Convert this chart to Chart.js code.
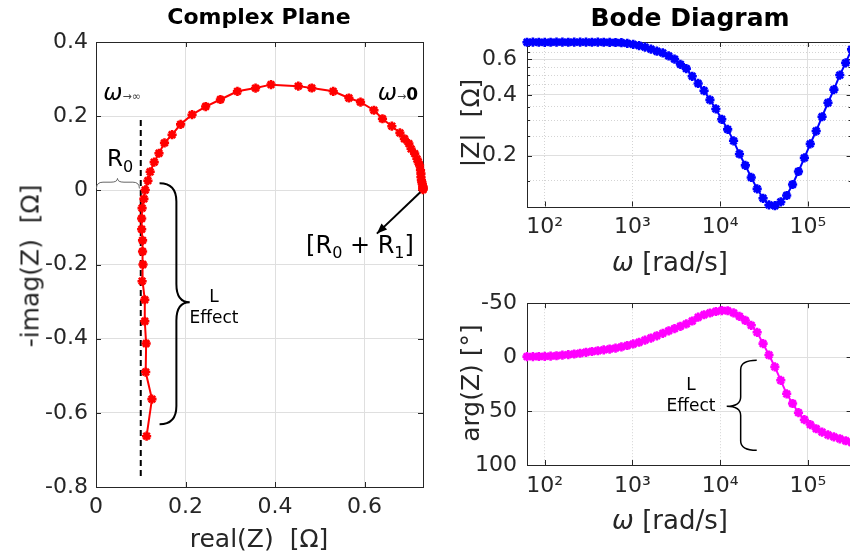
<!DOCTYPE html>
<html><head><meta charset="utf-8">
<script src="https://cdn.jsdelivr.net/npm/chart.js@4.4.1/dist/chart.umd.min.js"></script>
<style>
html,body{margin:0;padding:0;background:#fff;width:850px;height:553px;overflow:hidden;position:relative;font-family:'DejaVu Sans',sans-serif;color:#262626}
canvas{position:absolute}
.t{position:absolute;white-space:nowrap;transform:translate(-50%,-50%);line-height:1}
.r{transform:translate(-50%,-50%) rotate(-90deg)}
.ttl{font-weight:bold;color:#000}
.lab{font-size:25px}
.ann{font-size:17px;color:#000;text-align:center}
</style></head><body>
<canvas id="c1" width="440" height="553" style="left:0;top:0"></canvas>
<canvas id="c2" width="420" height="280" style="left:440px;top:0"></canvas>
<canvas id="c3" width="420" height="273" style="left:440px;top:280px"></canvas>

<div class="t ttl" style="left:259px;top:17px;font-size:22px">Complex Plane</div>
<div class="t ttl" style="left:690px;top:17px;font-size:25px">Bode Diagram</div>
<div class="t lab r" style="left:30px;top:266px">-imag(Z)&nbsp;&nbsp;[Ω]</div>
<div class="t lab" style="left:259px;top:538px">real(Z)&nbsp;&nbsp;[Ω]</div>
<div class="t lab r" style="left:470px;top:123px">|Z|&nbsp;&nbsp;[Ω]</div>
<div class="t lab r" style="left:470px;top:383px">arg(Z)&nbsp;[°]</div>
<div class="t lab" style="left:670px;top:262px;font-size:26px"><i>ω</i> [rad/s]</div>
<div class="t lab" style="left:670px;top:520px;font-size:26px"><i>ω</i> [rad/s]</div>
<div class="t" style="left:122px;top:92px;color:#000"><span style="font-size:23px;font-style:italic">ω</span><span style="font-size:11px;color:#444">→∞</span></div>
<div class="t" style="left:398px;top:92px;color:#000"><span style="font-size:23px;font-style:italic">ω</span><span style="font-size:11px;color:#444">→</span><span style="font-size:17px;font-weight:bold">0</span></div>
<div class="t" style="left:120px;top:161px;font-size:23px;color:#000">R<sub style="font-size:16px">0</sub></div>
<div class="t" style="left:360px;top:247px;font-size:24px;color:#000">[R<sub style="font-size:16px">0</sub> + R<sub style="font-size:16px">1</sub>]</div>
<div class="t ann" style="left:214px;top:307px;line-height:21px">L<br>Effect</div>
<div class="t ann" style="left:691px;top:395px;line-height:21px">L<br>Effect</div>

<script>
// ---------- data ----------
const nyqRe = [0.7306,0.7306,0.7306,0.7305,0.7303,0.729,0.728,0.727,0.726,0.726,0.725,0.723,0.720,0.717,0.712,0.704,0.699,0.689,0.679,0.661,0.640,0.621,0.591,0.565,0.530,0.482,0.452,0.391,0.3565,0.316,0.278,0.245,0.2146,0.189,0.170,0.153,0.1407,0.130,0.121,0.116,0.110,0.107,0.103,0.102,0.102,0.104,0.104,0.105,0.103,0.109,0.109,0.112,0.111,0.125,0.113];
const nyqNegIm = [0.002,0.004,0.006,0.008,0.011,0.017,0.0225,0.028,0.036,0.045,0.054,0.067,0.076,0.085,0.099,0.112,0.126,0.139,0.155,0.173,0.193,0.216,0.238,0.249,0.267,0.276,0.281,0.285,0.2757,0.267,0.245,0.226,0.204,0.178,0.150,0.128,0.100,0.076,0.050,0.026,0.001,-0.023,-0.048,-0.076,-0.105,-0.135,-0.165,-0.200,-0.245,-0.295,-0.353,-0.413,-0.490,-0.563,-0.663];
const r0LineX = [0.1, 0.1];
const r0LineY = [0.19, -0.775];

const omega = [62.83,73.4,85.6,100.0,116.7,136.3,159.1,185.8,216.9,253.2,295.6,345.1,402.9,470.3,549.1,641.1,748.4,873.8,1020,1191,1390,1623,1895,2213,2583,3016,3521,4110,4799,5603,6541,7637,8916,10409,12153,14188,16565,19339,22578,26360,30774,35928,41945,48971,57174,66749,77929,90981,106220,124010,144780,169030,197340,230390,268980,314030];
const magZ = [0.730,0.731,0.730,0.729,0.730,0.731,0.731,0.730,0.731,0.731,0.731,0.730,0.731,0.730,0.729,0.728,0.726,0.720,0.712,0.702,0.690,0.675,0.659,0.646,0.625,0.602,0.567,0.540,0.495,0.456,0.420,0.378,0.341,0.303,0.270,0.237,0.204,0.179,0.156,0.137,0.123,0.114,0.113,0.118,0.127,0.144,0.167,0.195,0.229,0.265,0.312,0.366,0.425,0.502,0.577,0.673];
const argZ = [-0.5,-0.5,-0.6,-0.7,-0.9,-1.3,-1.8,-2.3,-2.9,-3.6,-4.5,-5.2,-5.9,-6.7,-7.5,-8.4,-9.5,-10.8,-12.2,-13.8,-15.7,-17.7,-19.8,-22.0,-24.3,-26.5,-28.6,-30.8,-33.5,-37.0,-39.3,-40.9,-42.3,-43.2,-43.0,-41.0,-37.8,-34.0,-29.5,-23.0,-12.5,-2.0,9.0,21.5,34.0,43.0,51.5,58.0,62.5,66.4,69.5,72.0,73.9,75.7,77.5,79.1];

const nyqXTicks = [0, 0.2, 0.4, 0.6];
const nyqXLabels = ['0', '0.2', '0.4', '0.6'];
const nyqYTicks = [-0.8, -0.6, -0.4, -0.2, 0, 0.2, 0.4];
const nyqYLabels = ['-0.8', '-0.6', '-0.4', '-0.2', '0', '0.2', '0.4'];
const omegaTicks = [100, 1000, 10000, 100000];
const omegaLabels = ['10²', '10³', '10⁴', '10⁵'];
const magTicks = [0.15, 0.2, 0.25, 0.3, 0.35, 0.4, 0.45, 0.5, 0.55, 0.6, 0.65, 0.7];
const magMajor = [0.2, 0.4, 0.6];
const magLabels = ['0.2', '0.4', '0.6'];
const argTicks = [-50, 0, 50, 100];
const argLabels = ['-50', '0', '50', '100'];

// ---------- helpers ----------
const FONT = {family: "'DejaVu Sans', sans-serif", size: 22};
const TXT = '#262626';
const GRID = '#dfdfdf';
const MINOR = '#d4d4d4';

function setTicks(list) { return s => { s.ticks = list.map(v => ({value: v})); }; }
function labelFrom(vals, labels) {
  return v => { const i = vals.findIndex(t => Math.abs(t - v) < 1e-9 * Math.max(1, Math.abs(t))); return i >= 0 ? labels[i] : ''; };
}

const boxPlugin = {
  id: 'box',
  beforeDatasetsDraw(chart) {
    const {ctx, chartArea: a} = chart;
    ctx.save();
    ctx.strokeStyle = TXT; ctx.lineWidth = 1;
    ctx.strokeRect(Math.round(a.left) + 0.5, Math.round(a.top) + 0.5, Math.round(a.right - a.left), Math.round(a.bottom - a.top));
    ctx.beginPath();
    for (const id of Object.keys(chart.scales)) {
      const s = chart.scales[id];
      const lab = chart.options.scales[id].ticks.callback;
      for (const t of s.ticks) {
        const p = Math.round(s.getPixelForValue(t.value)) + 0.5;
        const len = lab(t.value) !== '' ? 5 : 3;
        if (s.isHorizontal()) {
          if (p < a.left + 1 || p > a.right - 1) continue;
          ctx.moveTo(p, a.bottom); ctx.lineTo(p, a.bottom - len);
          ctx.moveTo(p, a.top); ctx.lineTo(p, a.top + len);
        } else {
          if (p < a.top + 1 || p > a.bottom - 1) continue;
          ctx.moveTo(a.left, p); ctx.lineTo(a.left + len, p);
          ctx.moveTo(a.right, p); ctx.lineTo(a.right - len, p);
        }
      }
    }
    ctx.stroke();
    ctx.restore();
  }
};

function brace(ctx, ends, spine, tip, y1, y2, ym, vertical) {
  const P = (u, v) => vertical ? [u, v] : [v, u];
  const r = Math.min(Math.abs(ym - y1), Math.abs(y2 - ym)) * 0.12 + 4;
  const s1 = Math.sign(y2 - y1);
  ctx.beginPath();
  ctx.moveTo(...P(ends, y1));
  ctx.quadraticCurveTo(...P(spine, y1), ...P(spine, y1 + s1 * r));
  ctx.lineTo(...P(spine, ym - s1 * r));
  ctx.quadraticCurveTo(...P(spine, ym), ...P(tip, ym));
  ctx.quadraticCurveTo(...P(spine, ym), ...P(spine, ym + s1 * r));
  ctx.lineTo(...P(spine, y2 - s1 * r));
  ctx.quadraticCurveTo(...P(spine, y2), ...P(ends, y2));
  ctx.stroke();
}

const nyqAnnot = {
  id: 'nyqAnnot',
  afterDatasetsDraw(chart) {
    const {ctx, scales: {x, y}} = chart;
    ctx.save();
    ctx.strokeStyle = '#666'; ctx.lineWidth = 1;
    brace(ctx, y.getPixelForValue(0.005), y.getPixelForValue(0.022), y.getPixelForValue(0.032),
          x.getPixelForValue(0.001), x.getPixelForValue(0.097), x.getPixelForValue(0.048), false);
    ctx.strokeStyle = '#000'; ctx.lineWidth = 2;
    brace(ctx, x.getPixelForValue(0.142), x.getPixelForValue(0.1796), x.getPixelForValue(0.2094),
          y.getPixelForValue(0.019), y.getPixelForValue(-0.631), y.getPixelForValue(-0.302), true);
    const x1 = x.getPixelForValue(0.7245), y1 = y.getPixelForValue(-0.005);
    const x2 = x.getPixelForValue(0.6276), y2 = y.getPixelForValue(-0.1167);
    ctx.beginPath(); ctx.moveTo(x1, y1); ctx.lineTo(x2, y2); ctx.stroke();
    const ang = Math.atan2(y2 - y1, x2 - x1), h = 11;
    ctx.fillStyle = '#000';
    ctx.beginPath();
    ctx.moveTo(x2, y2);
    ctx.lineTo(x2 - h * Math.cos(ang - 0.38), y2 - h * Math.sin(ang - 0.38));
    ctx.lineTo(x2 - h * Math.cos(ang + 0.38), y2 - h * Math.sin(ang + 0.38));
    ctx.closePath(); ctx.fill();
    ctx.restore();
  }
};

const argAnnot = {
  id: 'argAnnot',
  afterDatasetsDraw(chart) {
    const {ctx, scales: {x, y}} = chart;
    ctx.save();
    ctx.strokeStyle = '#000'; ctx.lineWidth = 1.5;
    brace(ctx, x.getPixelForValue(26060), x.getPixelForValue(17100), x.getPixelForValue(11860),
          y.getPixelForValue(3), y.getPixelForValue(86.4), y.getPixelForValue(45.5), true);
    ctx.restore();
  }
};

const baseOpts = () => ({
  responsive: false, animation: false, events: [],
  plugins: {legend: {display: false}, tooltip: {enabled: false}, title: {display: false}},
});

function marks(color, xs, ys) {
  return {
    data: xs.map((v, i) => ({x: v, y: ys[i]})),
    showLine: true, borderColor: color, backgroundColor: color, borderWidth: 2,
    pointStyle: 'star', pointRadius: 4.6, pointBorderWidth: 2.6, pointBorderColor: color,
    clip: false, tension: 0
  };
}

// ---------- Complex plane ----------
new Chart(document.getElementById('c1'), {
  type: 'scatter',
  data: {datasets: [
    marks('#ff0000', nyqRe, nyqNegIm),
    {data: r0LineX.map((v, i) => ({x: v, y: r0LineY[i]})), showLine: true, borderColor: '#000',
     borderWidth: 2, borderDash: [6, 4], pointRadius: 0}
  ]},
  options: Object.assign(baseOpts(), {
    layout: {padding: {left: 0, top: 42, right: 17, bottom: 0}},
    scales: {
      x: {type: 'linear', min: 0, max: 0.7306, afterBuildTicks: setTicks(nyqXTicks),
          afterFit: s => { s.height = 66; },
          ticks: {callback: labelFrom(nyqXTicks, nyqXLabels), font: FONT, color: TXT, padding: 7, maxRotation: 0, autoSkip: false},
          grid: {color: GRID, drawTicks: false}, border: {display: false}},
      y: {type: 'linear', min: -0.8, max: 0.4, afterBuildTicks: setTicks(nyqYTicks),
          afterFit: s => { s.width = 96; },
          ticks: {callback: labelFrom(nyqYTicks, nyqYLabels), font: FONT, color: TXT, padding: 8, autoSkip: false},
          grid: {color: GRID, drawTicks: false}, border: {display: false}}
    }
  }),
  plugins: [boxPlugin, nyqAnnot]
});

// ---------- |Z| ----------
const omegaBorder = {display: false, dash: c => (c.tick && c.tick.value < 50000) ? [1, 2] : []};
const omegaGridColor = c => (c.tick && c.tick.value < 50000) ? MINOR : GRID;

new Chart(document.getElementById('c2'), {
  type: 'scatter',
  data: {datasets: [marks('#0000ff', omega, magZ)]},
  options: Object.assign(baseOpts(), {
    layout: {padding: {left: 0, top: 42, right: 8.4, bottom: 0}},
    scales: {
      x: {type: 'logarithmic', min: 62.83, max: 314159, afterBuildTicks: setTicks(omegaTicks),
          afterFit: s => { s.height = 73.5; },
          ticks: {callback: labelFrom(omegaTicks, omegaLabels), font: FONT, color: TXT, padding: 8, maxRotation: 0, autoSkip: false},
          grid: {color: omegaGridColor, drawTicks: false}, border: omegaBorder},
      y: {type: 'logarithmic', min: 0.112, max: 0.732, afterBuildTicks: setTicks(magTicks),
          afterFit: s => { s.width = 87; },
          ticks: {callback: labelFrom(magMajor, magLabels), font: FONT, color: TXT, padding: 10, autoSkip: false},
          grid: {color: c => (c.tick && magMajor.some(m => Math.abs(m - c.tick.value) < 1e-9)) ? GRID : MINOR, drawTicks: false},
          border: {display: false, dash: c => (c.tick && !magMajor.some(m => Math.abs(m - c.tick.value) < 1e-9)) ? [1, 2] : []}}
    }
  }),
  plugins: [boxPlugin]
});

// ---------- arg(Z) ----------
new Chart(document.getElementById('c3'), {
  type: 'scatter',
  data: {datasets: [marks('#ff00ff', omega, argZ)]},
  options: Object.assign(baseOpts(), {
    layout: {padding: {left: 0, top: 20.5, right: 8.4, bottom: 0}},
    scales: {
      x: {type: 'logarithmic', min: 62.83, max: 314159, afterBuildTicks: setTicks(omegaTicks),
          afterFit: s => { s.height = 88; },
          ticks: {callback: labelFrom(omegaTicks, omegaLabels), font: FONT, color: TXT, padding: 8, maxRotation: 0, autoSkip: false},
          grid: {color: omegaGridColor, drawTicks: false}, border: omegaBorder},
      y: {type: 'linear', reverse: true, min: -50, max: 100, afterBuildTicks: setTicks(argTicks),
          afterFit: s => { s.width = 87; },
          ticks: {callback: labelFrom(argTicks, argLabels), font: FONT, color: TXT, padding: 10, autoSkip: false},
          grid: {color: GRID, drawTicks: false}, border: {display: false}}
    }
  }),
  plugins: [boxPlugin, argAnnot]
});
</script>
</body></html>
